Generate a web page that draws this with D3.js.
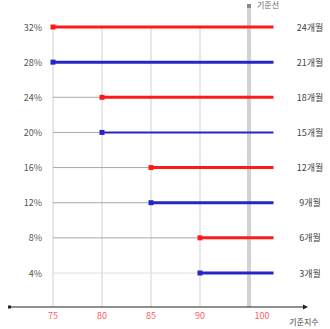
<!DOCTYPE html>
<html><head><meta charset="utf-8">
<script src="https://cdn.jsdelivr.net/npm/d3@7"></script>
<style>body{margin:0;background:#fff}svg{display:block}</style>
</head><body>
<script>
const yLabels = ["32%","28%","24%","20%","16%","12%","8%","4%"];
const monthLabels = ["24개월","21개월","18개월","15개월","12개월","9개월","6개월","3개월"];
const startValues = [75,75,80,80,85,85,90,90];
const endValue = 105;
const seriesColors = ["red","blue","red","blue","red","blue","red","blue"];
const xTicks = [75,80,85,90,100];
const refValue = 100;
const refLabel = "기준선";
const xTitle = "기준지수";

const W = 330, H = 329;
const svg = d3.select("body").append("svg").attr("width", W).attr("height", H);
const font = "'Noto Sans CJK KR','Noto Sans',sans-serif";

const x = d3.scaleLinear().domain([75,80,85,90,100,110]).range([53,102,151,200,249,298]);
const y = d3.scalePoint().domain(yLabels).range([27,273]);
const axisY = 307;

// vertical grid
svg.selectAll(".grid").data(xTicks.filter(d => d !== refValue)).enter().append("line")
  .attr("x1", d => x(d)).attr("x2", d => x(d)).attr("y1", 27).attr("y2", axisY)
  .attr("stroke", "#e8e8e8").attr("stroke-width", 2);
// reference line
svg.append("line").attr("x1", x(refValue)).attr("x2", x(refValue)).attr("y1", 6).attr("y2", axisY)
  .attr("stroke", "#d2d2d2").attr("stroke-width", 4);
svg.append("rect").attr("x", x(refValue) - 2).attr("y", 4).attr("width", 4).attr("height", 4).attr("fill", "#888");
svg.append("text").attr("x", x(refValue) + 8).attr("y", 8).attr("font-size", 8).attr("fill", "#666")
  .attr("font-family", font).text(refLabel);

const rows = yLabels.map((l, i) => ({label: l, month: monthLabels[i], start: startValues[i], color: seriesColors[i], i}));
const colorMap = {red: "#ff1a1a", blue: "#2626c8"};

// leader lines
svg.selectAll(".lead").data(rows.filter(d => d.start > 75)).enter().append("line")
  .attr("x1", x(75)).attr("x2", d => x(d.start)).attr("y1", d => y(d.label)).attr("y2", d => y(d.label))
  .attr("stroke", d => d.i === 7 ? "#e4dcd8" : "#a8a8a8").attr("stroke-width", 1);

// bars
svg.selectAll(".bar").data(rows).enter().append("line")
  .attr("x1", d => x(d.start)).attr("x2", x(endValue)).attr("y1", d => y(d.label)).attr("y2", d => y(d.label))
  .attr("stroke", d => colorMap[d.color]).attr("stroke-width", d => d.i === 3 ? 2 : 3);
svg.selectAll(".mk").data(rows).enter().append("rect")
  .attr("x", d => x(d.start) - 2.5).attr("y", d => y(d.label) - 2.5).attr("width", 5).attr("height", 5)
  .attr("fill", d => colorMap[d.color]);

// y labels
svg.selectAll(".yl").data(rows).enter().append("text")
  .attr("x", 42).attr("y", d => y(d.label) + 3.5).attr("text-anchor", "end")
  .attr("font-size", 9).attr("fill", "#555").attr("font-family", font).text(d => d.label);
// month labels
svg.selectAll(".ml").data(rows).enter().append("text")
  .attr("x", 310).attr("y", d => y(d.label) + 3.5).attr("text-anchor", "middle")
  .attr("font-size", 9).attr("fill", "#444").attr("font-family", font).text(d => d.month);

// x axis
svg.append("line").attr("x1", 8).attr("x2", 303).attr("y1", axisY).attr("y2", axisY).attr("stroke", "#222").attr("stroke-width", 1);
svg.append("path").attr("d", `M303,${axisY-2.5}L308,${axisY}L303,${axisY+2.5}Z`).attr("fill", "#222");
svg.append("rect").attr("x", 8).attr("y", axisY - 1.5).attr("width", 3).attr("height", 3).attr("fill", "#222");
svg.selectAll(".xt").data(xTicks).enter().append("text")
  .attr("x", d => x(d) + (d === refValue ? 13 : 0)).attr("y", 319).attr("text-anchor", "middle")
  .attr("font-size", 9).attr("fill", "#ff5a5a").attr("font-family", font).text(d => d);
svg.append("text").attr("x", 304).attr("y", 325).attr("text-anchor", "middle").attr("font-size", 8)
  .attr("fill", "#444").attr("font-family", font).text(xTitle);
</script>
</body></html>
